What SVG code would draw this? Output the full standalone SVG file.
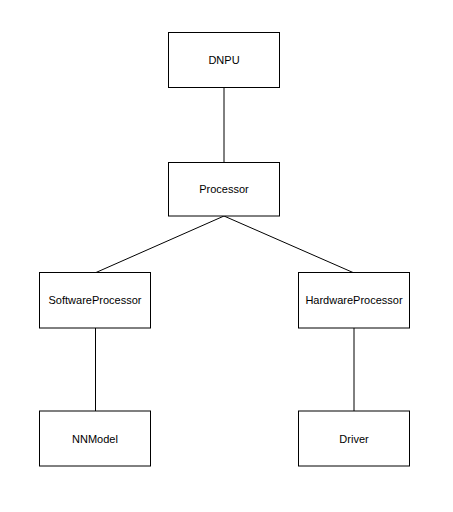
<svg xmlns="http://www.w3.org/2000/svg" width="453" height="512" viewBox="0 0 453 512">
<style>
.box{fill:#fff;stroke:#000;stroke-width:1}
.lbl{font-family:"Liberation Sans",Arial,sans-serif;font-size:11px;fill:#000;text-anchor:middle;dominant-baseline:central}
.edge{stroke:#000;stroke-width:1;fill:none}
</style>
<rect width="453" height="512" fill="#fff"/>
<g id="connectors">
<line class="edge" x1="224" y1="87.5" x2="224" y2="162.5"/>
<line class="edge" x1="224" y1="216" x2="96" y2="272.5"/>
<line class="edge" x1="224" y1="216" x2="353" y2="272.5"/>
<line class="edge" x1="95.5" y1="328" x2="95.5" y2="411"/>
<line class="edge" x1="354" y1="328" x2="354" y2="411"/>
</g>
<g id="DNPU"><rect class="box" x="168.5" y="32.5" width="111" height="55"/><text class="lbl" x="224" y="60">DNPU</text></g>
<g id="Processor"><rect class="box" x="168.5" y="162.5" width="111" height="53.5"/><text class="lbl" x="224" y="189">Processor</text></g>
<g id="SoftwareProcessor"><rect class="box" x="39.5" y="272.5" width="111" height="55.5"/><text class="lbl" x="95" y="300">SoftwareProcessor</text></g>
<g id="HardwareProcessor"><rect class="box" x="298.5" y="272.5" width="111" height="55.5"/><text class="lbl" x="354" y="300">HardwareProcessor</text></g>
<g id="NNModel"><rect class="box" x="39.5" y="411" width="111" height="55"/><text class="lbl" x="95" y="439">NNModel</text></g>
<g id="Driver"><rect class="box" x="298.5" y="411" width="111" height="55"/><text class="lbl" x="354" y="439">Driver</text></g>
</svg>
